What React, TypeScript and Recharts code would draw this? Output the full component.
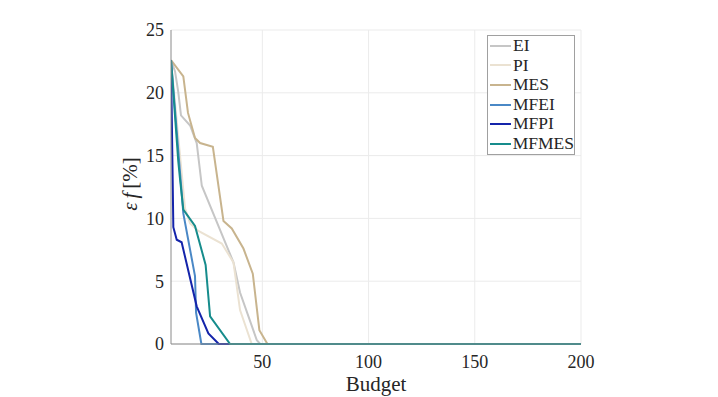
import { CartesianGrid, Line, LineChart, XAxis, YAxis } from "recharts";

type Pt = { x: number; y: number };
const pts = (a: number[][]): Pt[] => a.map(([x, y]) => ({ x, y }));

const X_TICKS = [50, 100, 150, 200];
const Y_TICKS = [0, 5, 10, 15, 20, 25];

const ei = pts([
  [7, 22.6], [8.9, 21.7], [10.4, 20.1], [11.7, 18.2], [16, 17.4], [19.1, 16.0],
  [21.5, 12.6], [36.4, 6.5], [39.5, 4.1], [47.4, 0.3], [49, 0], [200, 0],
]);
const pi = pts([
  [7, 22.6], [13.6, 10.8], [16, 9.6], [19.9, 9.0], [30.9, 8.0], [36.4, 6.5],
  [39.5, 2.7], [45, 0], [200, 0],
]);
const mes = pts([
  [7, 22.6], [12.8, 21.3], [15, 18.4], [18.3, 16.4], [20.7, 16.0], [26.7, 15.7],
  [31.7, 9.8], [35.6, 9.2], [41.1, 7.6], [45.5, 5.6], [48.6, 1.1], [52.4, 0], [200, 0],
]);
const mfei = pts([
  [7, 22.6], [12.8, 10.4], [18.3, 5.4], [18.8, 2.5], [21.3, 0], [200, 0],
]);
const mfpi = pts([
  [7, 22.6], [8.1, 9.3], [9.7, 8.3], [12, 8.1], [19.1, 3.0], [24.6, 0.85], [29.5, 0], [200, 0],
]);
const mfmes = pts([
  [7, 22.6], [10.4, 14.6], [11.2, 13.2], [12.8, 10.7], [18.3, 9.4], [23.3, 6.3],
  [25.4, 2.2], [34.8, 0], [200, 0],
]);

const SERIES = [
  { name: "EI", data: ei, color: "#c6c6c6" },
  { name: "PI", data: pi, color: "#ebe2d2" },
  { name: "MES", data: mes, color: "#c8b48e" },
  { name: "MFEI", data: mfei, color: "#4a88c6" },
  { name: "MFPI", data: mfpi, color: "#1424aa" },
  { name: "MFMES", data: mfmes, color: "#168c8c" },
];

const FONT = "'Liberation Serif', 'Times New Roman', serif";
const TXT = "#262626";

function LegendBox() {
  return (
    <div
      style={{
        position: "absolute",
        left: 487,
        top: 35,
        border: "1px solid #a0a0a0",
        background: "#fff",
        width: 86,
        padding: "0 0 0 0",
        fontFamily: FONT,
        fontSize: 17.5,
        lineHeight: "19.6px",
        color: TXT,
      }}
    >
      {SERIES.map((s) => (
        <div key={s.name} style={{ display: "flex", alignItems: "center", height: 19.6 }}>
          <span style={{ display: "inline-block", width: 21, height: 2, marginLeft: 2, marginRight: 2, background: s.color }} />
          <span>{s.name}</span>
        </div>
      ))}
    </div>
  );
}

export default function App() {
  return (
    <div style={{ position: "absolute", left: 0, top: 0, width: 718, height: 397, background: "#fff" }}>
      <LineChart width={718} height={397} margin={{ top: 30, right: 137, bottom: 3, left: 131 }}>
        <CartesianGrid stroke="#ebebeb" strokeWidth={1} horizontalValues={Y_TICKS} verticalValues={X_TICKS} />
        <XAxis
          type="number"
          dataKey="x"
          domain={[7, 200]}
          ticks={X_TICKS}
          allowDataOverflow
          height={50}
          tickSize={0}
          tickMargin={11}
          stroke="#8a8a8a"
          tick={{ fill: TXT, fontSize: 18, fontFamily: FONT }}
          label={({ viewBox }: any) => (
            <text
              x={viewBox.x + viewBox.width / 2}
              y={viewBox.y + 47}
              textAnchor="middle"
              fill={TXT}
              fontSize={21}
              fontFamily={FONT}
            >
              Budget
            </text>
          )}
        />
        <YAxis
          type="number"
          domain={[0, 25]}
          ticks={Y_TICKS}
          width={40}
          tickSize={0}
          tickMargin={7}
          stroke="#8a8a8a"
          tick={{ fill: TXT, fontSize: 18, fontFamily: FONT }}
          label={({ viewBox }: any) => {
            const cx = viewBox.x + viewBox.width - 39;
            const cy = viewBox.y + viewBox.height / 2 - 3;
            return (
              <text
                x={cx}
                y={cy}
                transform={`rotate(-90, ${cx}, ${cy})`}
                textAnchor="middle"
                dominantBaseline="middle"
                fill={TXT}
                fontSize={21}
                fontFamily={FONT}
              >
                <tspan fontStyle="italic">ε</tspan>
                <tspan fontStyle="italic" dx={4}>f</tspan>
                <tspan dx={4}>[%]</tspan>
              </text>
            );
          }}
        />
        {SERIES.map((s) => (
          <Line
            key={s.name}
            data={s.data}
            dataKey="y"
            name={s.name}
            type="linear"
            stroke={s.color}
            strokeWidth={2}
            dot={false}
            activeDot={false}
            isAnimationActive={false}
          />
        ))}
      </LineChart>
      <LegendBox />
    </div>
  );
}
